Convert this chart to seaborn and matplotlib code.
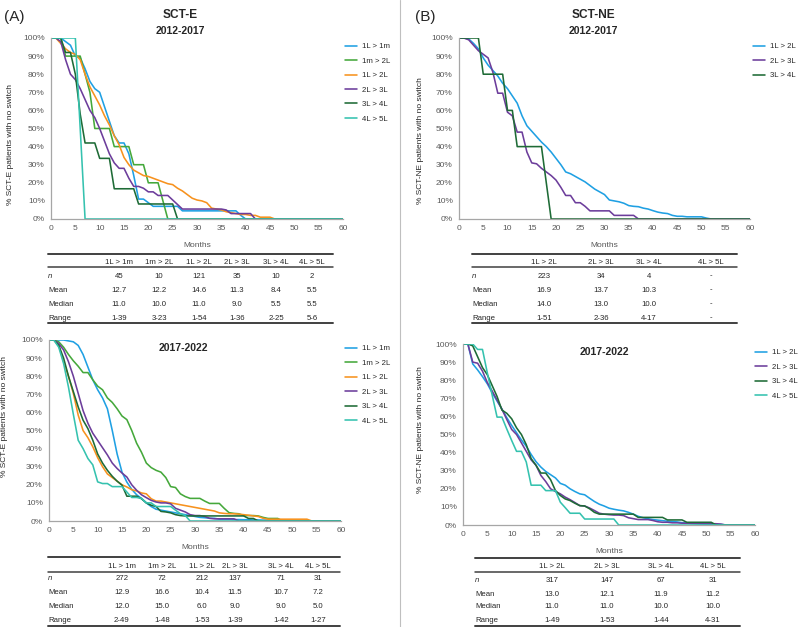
import pandas as pd
import seaborn as sns
import matplotlib.pyplot as plt
from matplotlib.lines import Line2D
from matplotlib.ticker import PercentFormatter

W, H = 798, 627
LAST_MONTH = 60

BLUE = '#1FA0E3'
GREEN = '#45A83B'
ORANGE = '#F7921E'
PURPLE = '#6C3D9B'
DKGREEN = '#1E6B36'
TEAL = '#35C2AF'
TXT = '#262626'
GREY = '#595959'

# % of patients with no switch, month 0, 1, 2, ... (curve then stays at 0 to month 60)

# SCT-E 2012-2017
e1_names = ['1L > 1m', '1m > 2L', '1L > 2L', '2L > 3L', '3L > 4L', '4L > 5L']
e1_1l1m = [100, 100, 100, 98, 96, 90, 89, 83, 76, 72, 70, 62, 54, 46, 42, 42, 36, 24, 11, 11,
           9, 7, 7, 7, 7, 7, 7, 4.5, 4.5, 4.5, 4.5, 4.5, 4.5, 4.5, 4.5, 4.5, 4.5, 4.5, 4.5, 2, 0]
e1_1m2l = [100, 100, 100, 90, 90, 90, 90, 80, 70, 50, 50, 50, 50, 40, 40, 40, 40, 30, 30, 30,
           20, 20, 20, 10, 0]
e1_1l2l = [100, 100, 97, 94, 92, 91, 88, 80, 73, 68, 63, 57, 52, 46, 41, 34, 30, 27, 25.5, 24,
           23.5, 22.5, 21.5, 20.5, 19.5, 19, 17, 15.5, 13.5, 11.5, 10.5, 10, 9, 6, 5.5, 5, 4, 3.5,
           3, 2.5, 2.5, 2, 2, 1, 1, 1, 0]
e1_2l3l = [100, 100, 98, 88, 80, 77, 72, 66, 60, 56, 50, 43, 36, 31, 28, 28, 22.5, 18, 18, 17,
           15, 15, 13, 13, 13, 10.5, 8, 5.5, 5.5, 5.5, 5.5, 5.5, 5.5, 5.5, 5.5, 5.5, 5, 3, 3, 3,
           3, 3, 0]
e1_3l4l = [100, 100, 100, 92, 92, 80, 58, 42, 42, 42, 33.5, 33.5, 33.5, 16.7, 16.7, 16.7, 16.7,
           16.7, 8.3, 8.3, 8.3, 8.3, 8.3, 8.3, 8.3, 8.3, 0]
e1_4l5l = [100, 100, 100, 100, 100, 100, 50, 0]

# SCT-NE 2012-2017
ne1_names = ['1L > 2L', '2L > 3L', '3L > 4L']
ne1_1l2l = [100, 100, 99.5, 97, 94, 89, 85, 82, 79, 75, 72, 68, 64, 57, 51.5, 48.5, 45.5, 42.5,
            40, 37, 33.5, 30, 26, 25, 23.5, 22, 20.5, 18.5, 16.5, 15, 13.5, 10.5, 10, 9.5, 8.7,
            7.4, 7, 6.8, 6, 5.5, 4.6, 3.8, 3.3, 3, 2, 1.5, 1.5, 1.2, 1.2, 1.2, 1.2, 0.5, 0]
ne1_2l3l = [100, 100, 99, 96, 93, 91, 89, 81, 69.5, 69.5, 59, 57, 48, 48, 37, 31, 30.5, 28, 26,
            24, 21.5, 17.5, 13, 13, 9, 9, 7, 4.5, 4.5, 4.5, 4.5, 4.5, 2, 2, 2, 2, 2, 0]
ne1_3l4l = [100, 100, 100, 100, 100, 80, 80, 80, 80, 80, 60, 60, 40, 40, 40, 40, 40, 40, 20, 0]

# SCT-E 2017-2022
e2_1l1m = [100, 100, 100, 100, 99.5, 99, 97, 92, 85, 78, 72.5, 68, 62, 50, 37, 27, 21.5, 17.5,
           14.5, 12.5, 10, 8, 6.5, 6, 5.5, 5, 4.5, 4, 3.5, 3, 2.5, 2, 1.8, 1.5, 1.5, 1, 1, 1,
           0.8, 0.8, 0.7, 0.7, 0.6, 0.6, 0.5, 0.5, 0.5, 0.4, 0.4, 0]
e2_1m2l = [100, 100, 99, 96, 92, 88.5, 85.5, 82, 82, 78, 74.5, 72.5, 68, 65.5, 62, 58, 56, 50,
           43, 38, 32, 29.5, 28, 27, 24, 19, 18.5, 15, 13.5, 12.5, 12.5, 12.5, 11, 9.7, 9.7, 9.7,
           7, 4.6, 4.2, 4, 3, 3, 3, 2.8, 2, 1.4, 1.4, 1.4, 0]
e2_1l2l = [100, 100, 97, 88, 80, 70.5, 58.5, 50, 46, 41, 35, 30, 26, 24, 22, 20, 18.8, 17.3,
           16.6, 15.5, 15, 12.3, 11, 11, 10.5, 10, 9.5, 9, 8.5, 8, 7.5, 7, 6.5, 6, 5.5, 4.5, 4.2,
           4, 4, 3.8, 3.5, 3.2, 2.8, 2.5, 1.5, 1, 1, 1, 1, 1, 1, 1, 1, 1, 0]
e2_2l3l = [100, 100, 98, 94.5, 88, 80, 70.5, 61, 54, 48.5, 44.5, 40.5, 36.5, 32, 29, 26.5, 24.3,
           20, 17, 14.5, 12.9, 11.4, 10.5, 10, 10, 9.5, 7, 6, 5, 3.5, 3, 3, 2.5, 1.5, 1.2, 1.2,
           1.2, 1.2, 1.2, 0]
e2_3l4l = [100, 100, 97, 90, 80, 71.5, 63, 55.7, 51, 44.6, 37, 32, 28, 24.7, 22, 19.8, 13.7,
           13.7, 13.7, 12.3, 10, 8.7, 8, 5.3, 5, 4.5, 3.5, 3, 2.8, 2.8, 2.8, 2.8, 2.8, 2.8, 2.8,
           2.8, 2.8, 2.8, 2.8, 2.8, 2.8, 1.4, 1.4, 0]
e2_4l5l = [100, 100, 96, 87, 74, 59, 44.6, 40, 34.5, 31, 21.6, 20.7, 20.7, 19, 19, 19, 16, 13,
           13, 12.5, 10, 10, 8, 8, 8, 8, 6, 4, 3, 0]

# SCT-NE 2017-2022
ne2_names = ['1L > 2L', '2L > 3L', '3L > 4L', '4L > 5L']
ne2_1l2l = [100, 100, 89, 85.7, 82, 78, 73, 68.5, 64, 59.3, 55, 51, 47, 43.5, 39, 35, 32, 29.6,
            27.8, 26, 23, 22, 20, 18.5, 17.2, 16.7, 14.8, 13, 11.5, 10.5, 9.3, 8.7, 8.2, 7.8, 7,
            6, 4.8, 4, 3.5, 3, 2.7, 2.4, 2.1, 1.9, 1.7, 1.3, 1.1, 0.9, 0.7, 0.5, 0.4, 0.3, 0.3,
            0.3, 0]
ne2_2l3l = [100, 100, 90, 89.4, 85, 78.7, 74, 69, 64, 58.3, 52.8, 50, 45.4, 40.7, 36, 33, 27.4,
            24, 20, 18.5, 17.2, 15.4, 14, 12.4, 10.7, 10.5, 9.4, 8, 6.5, 6, 5.7, 5.5, 5.5, 5.2,
            4, 3.5, 3, 3, 3, 2.5, 1.8, 1.5, 1.5, 1.2, 1.2, 1, 1, 0.9, 0.9, 0.9, 0.8, 0.7, 0.7,
            0.5, 0]
ne2_3l4l = [100, 100, 99, 93, 87, 83, 77, 71, 63.5, 61.7, 58.7, 53.7, 50, 44.4, 36.7, 33, 28.7,
            28.7, 25, 19, 16.3, 14.4, 13.5, 12, 10.7, 10.5, 9, 7, 6, 6, 6, 6, 6, 6, 6, 6, 4.2,
            4.2, 4.2, 4.2, 4.2, 4.2, 2.8, 2.8, 2.8, 2.8, 1.5, 1.5, 1.5, 1.5, 1.5, 1.5, 0]
ne2_4l5l = [100, 100, 100, 97, 97, 84, 71.7, 59.6, 59.6, 53, 46.7, 40.7, 40.7, 34.8, 22, 22, 22,
            19, 19, 19, 12.6, 9.6, 6.5, 6.5, 6.5, 3.3, 3.3, 3.3, 3.3, 3.3, 3.3, 3.3, 0]

# summary tables
row_names = ['n', 'Mean', 'Median', 'Range']
t_e1 = [['45', '10', '121', '35', '10', '2'],
        ['12.7', '12.2', '14.6', '11.3', '8.4', '5.5'],
        ['11.0', '10.0', '11.0', '9.0', '5.5', '5.5'],
        ['1-39', '3-23', '1-54', '1-36', '2-25', '5-6']]
t_ne1_cols = ['1L > 2L', '2L > 3L', '3L > 4L', '4L > 5L']
t_ne1 = [['223', '34', '4', '-'],
         ['16.9', '13.7', '10.3', '-'],
         ['14.0', '13.0', '10.0', '-'],
         ['1-51', '2-36', '4-17', '-']]
t_e2 = [['272', '72', '212', '137', '71', '31'],
        ['12.9', '16.6', '10.4', '11.5', '10.7', '7.2'],
        ['12.0', '15.0', '6.0', '9.0', '9.0', '5.0'],
        ['2-49', '1-48', '1-53', '1-39', '1-42', '1-27']]
t_ne2 = [['317', '147', '67', '31'],
         ['13.0', '12.1', '11.9', '11.2'],
         ['11.0', '11.0', '10.0', '10.0'],
         ['1-49', '1-53', '1-44', '4-31']]

sns.set_style('white')
plt.rcParams['font.family'] = ['Liberation Sans', 'DejaVu Sans']

fig = plt.figure(figsize=(W / 100, H / 100), dpi=100)


def fx(x):
    return x / W


def fy(y):
    return 1 - y / H


def draw_panel(box, names, curves, colors, ylabel, ylab_xy, leg_xy):
    x0, y0, x1, y1 = box
    ax = fig.add_axes([fx(x0), fy(y1), (x1 - x0) / W, (y1 - y0) / H])
    frames = []
    for name, vals in zip(names, curves):
        frames.append(pd.DataFrame({'month': list(range(len(vals))) + [LAST_MONTH],
                                    'pct': list(vals) + [0], 'line': name}))
    df = pd.concat(frames, ignore_index=True)
    sns.lineplot(data=df, x='month', y='pct', hue='line', hue_order=names,
                 palette=colors, linewidth=1.15, estimator=None, legend=False, ax=ax)
    ax.set_xlim(0, 60)
    ax.set_ylim(0, 100)
    ax.set_xticks(range(0, 61, 5))
    ax.set_yticks(range(0, 101, 10))
    ax.yaxis.set_major_formatter(PercentFormatter(decimals=0))
    sns.despine(ax=ax)
    for s in ['left', 'bottom']:
        ax.spines[s].set_color('#A6A6A6')
        ax.spines[s].set_linewidth(0.9)
    ax.tick_params(length=3, width=0.8, color='#A6A6A6', labelsize=6, labelcolor=GREY, pad=1.5)
    ax.set_xlabel('Months', fontsize=6, color=GREY)
    ax.xaxis.set_label_coords(0.5, -0.125)
    ax.set_ylabel(ylabel, fontsize=6, color=TXT)
    ax.yaxis.set_label_coords(*ylab_xy)
    ax.legend(ax.get_lines()[:len(names)], names, loc='upper left',
              bbox_to_anchor=(fx(leg_xy[0]), fy(leg_xy[1])), bbox_transform=fig.transFigure,
              frameon=False, fontsize=5.6, handlelength=1.6, handletextpad=0.6,
              labelspacing=0.9, borderpad=0, borderaxespad=0, labelcolor=TXT)
    return ax


def draw_table(x0, x1, col_x, y_lines, y_head, y_rows, header, rows):
    for y, lw in zip(y_lines, [1.4, 1.1, 1.4]):
        fig.add_artist(Line2D([fx(x0), fx(x1)], [fy(y), fy(y)], color='#404040', lw=lw))
    for cx, h in zip(col_x, header):
        fig.text(fx(cx), fy(y_head), h, ha='center', va='center', fontsize=5.6, color=TXT)
    for ry, label, vals in zip(y_rows, row_names, rows):
        fig.text(fx(x0), fy(ry), label, ha='left', va='center', fontsize=5.6, color=TXT,
                 style='italic' if label == 'n' else 'normal')
        for cx, v in zip(col_x, vals):
            fig.text(fx(cx), fy(ry), v, ha='center', va='center', fontsize=5.6, color=TXT)


colors6 = [BLUE, GREEN, ORANGE, PURPLE, DKGREEN, TEAL]

# (A) SCT-E 2012-2017
draw_panel((51, 38, 343, 219), e1_names,
           [e1_1l1m, e1_1m2l, e1_1l2l, e1_2l3l, e1_3l4l, e1_4l5l], colors6,
           '% SCT-E patients with no switch', (-0.128, 0.41), (345, 43))
draw_table(48, 333, [119, 159, 199, 237, 276, 312], [254, 267, 323], 262,
           [276, 290, 304, 318], e1_names, t_e1)

# (B) SCT-NE 2012-2017
draw_panel((459, 38, 750, 219), ne1_names, [ne1_1l2l, ne1_2l3l, ne1_3l4l],
           [BLUE, PURPLE, DKGREEN],
           '% SCT-NE patients with no switch', (-0.12, 0.436), (753, 43))
draw_table(472, 737, [544, 601, 649, 711], [254, 267, 323], 262,
           [276, 290, 304, 318], t_ne1_cols, t_ne1)

# (A) SCT-E 2017-2022
draw_panel((49, 340, 341, 521), e1_names,
           [e2_1l1m, e2_1m2l, e2_1l2l, e2_2l3l, e2_3l4l, e2_4l5l], colors6,
           '% SCT-E patients with no switch', (-0.142, 0.575), (345, 345))
draw_table(48, 340, [122, 162, 202, 235, 281, 318], [557, 572, 626], 566,
           [579, 593, 607, 621], e1_names, t_e2)

# (B) SCT-NE 2017-2022
draw_panel((463, 344, 755, 525), ne2_names, [ne2_1l2l, ne2_2l3l, ne2_3l4l, ne2_4l5l],
           [BLUE, PURPLE, DKGREEN, TEAL],
           '% SCT-NE patients with no switch', (-0.132, 0.525), (755, 349))
draw_table(475, 740, [552, 607, 661, 713], [558, 572, 626], 566,
           [580, 594, 607, 621], ne2_names, t_ne2)

# titles and panel letters
fig.text(fx(4), fy(17), '(A)', ha='left', va='center', fontsize=11, color=TXT)
fig.text(fx(415), fy(17), '(B)', ha='left', va='center', fontsize=11, color=TXT)
fig.text(fx(180), fy(15), 'SCT-E', ha='center', va='center', fontsize=8.6, weight='bold', color=TXT)
fig.text(fx(180), fy(31), '2012-2017', ha='center', va='center', fontsize=7.5, weight='bold', color=TXT)
fig.text(fx(593), fy(15), 'SCT-NE', ha='center', va='center', fontsize=8.6, weight='bold', color=TXT)
fig.text(fx(593), fy(31), '2012-2017', ha='center', va='center', fontsize=7.5, weight='bold', color=TXT)
fig.text(fx(183), fy(348), '2017-2022', ha='center', va='center', fontsize=7.5, weight='bold', color=TXT)
fig.text(fx(604), fy(352), '2017-2022', ha='center', va='center', fontsize=7.5, weight='bold', color=TXT)

# divider between the two halves
fig.add_artist(Line2D([fx(400), fx(400)], [0, 1], color='#BFBFBF', lw=0.8))

fig.savefig('out.png', dpi=100)
